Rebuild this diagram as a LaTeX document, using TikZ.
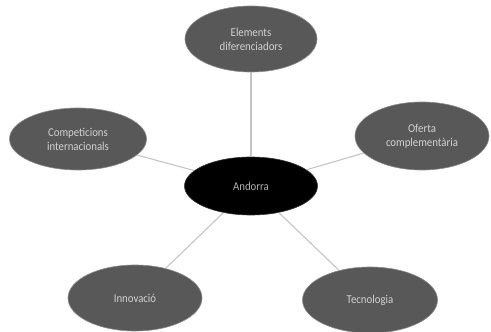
\documentclass[tikz,border=0pt]{standalone}
\usepackage{fontspec}
\setmainfont{Carlito}
\usetikzlibrary{shapes.geometric}
\definecolor{ellfill}{HTML}{585858}
\definecolor{ellline}{HTML}{8A8A8A}
\definecolor{txtcol}{HTML}{D2D2D2}
\definecolor{linkcol}{HTML}{C4C4C4}
\tikzset{
  bub/.style={ellipse, fill=ellfill, draw=ellline, line width=0.6pt, text=txtcol,
    inner sep=0pt, align=center, font=\fontsize{12}{14}\selectfont},
  hub/.style={bub, fill=black, draw=black!80, text=txtcol!85!black},
  link/.style={draw=linkcol, line width=1.1pt}
}
\begin{document}
\begin{tikzpicture}[x=1pt,y=-1pt]
\useasboundingbox (0,0) rectangle (491,332);
\node[hub, minimum width=133pt, minimum height=58pt] (c) at (251,186) {\scalebox{0.9}[1]{Andorra}};
\node[bub, minimum width=132pt, minimum height=66pt] (t) at (251,39) {\scalebox{0.9}[1]{Elements}\\\scalebox{0.9}[1]{diferenciadors}};
\node[bub, minimum width=137pt, minimum height=62pt] (l) at (78,139) {\scalebox{0.9}[1]{Competicions}\\\scalebox{0.9}[1]{internacionals}};
\node[bub, minimum width=134pt, minimum height=68pt] (r) at (422,136) {\scalebox{0.9}[1]{Oferta}\\\scalebox{0.9}[1]{complementària}};
\node[bub, minimum width=134pt, minimum height=66pt] (bl) at (135,298) {\scalebox{0.9}[1]{Innovació}};
\node[bub, minimum width=135pt, minimum height=66pt] (br) at (370,300) {\scalebox{0.9}[1]{Tecnologia}};
\draw[link] (c) -- (t);
\draw[link] (c) -- (l);
\draw[link] (c) -- (r);
\draw[link] (c) -- (bl);
\draw[link] (c) -- (br);
\end{tikzpicture}
\end{document}
